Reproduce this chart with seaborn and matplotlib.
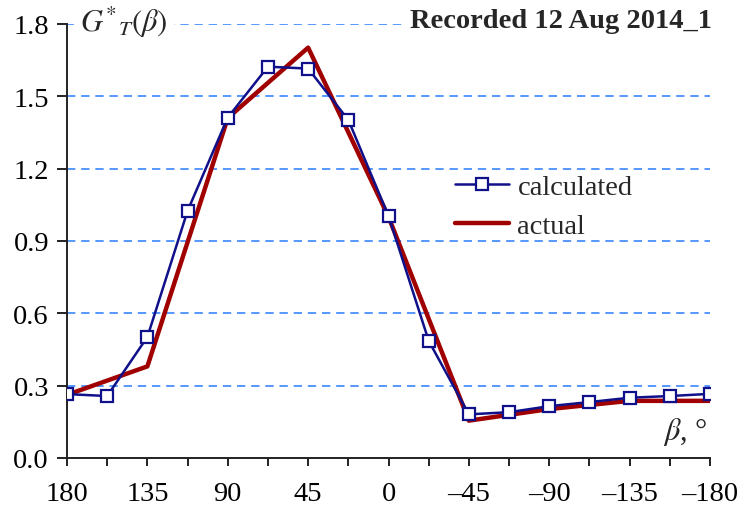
import seaborn as sns
import matplotlib.pyplot as plt
import pandas as pd

# data
beta_calc = [180, 157.5, 135, 112.5, 90, 67.5, 45, 22.5, 0, -22.5, -45, -67.5, -90, -112.5, -135, -157.5, -180]
g_calc = [0.265, 0.257, 0.502, 1.025, 1.412, 1.623, 1.615, 1.402, 1.004, 0.486, 0.181, 0.19, 0.215, 0.232, 0.25, 0.257, 0.266]
beta_act = [180, 135, 90, 45, 0, -45, -90, -135, -180]
g_act = [0.262, 0.38, 1.41, 1.702, 1.0, 0.155, 0.203, 0.237, 0.237]
xticks = [180, 135, 90, 45, 0, -45, -90, -135, -180]
xminor = [157.5, 112.5, 67.5, 22.5, -22.5, -67.5, -112.5, -157.5]
yticks = [0.0, 0.3, 0.6, 0.9, 1.2, 1.5, 1.8]

sns.set_style("ticks")
plt.rcParams['font.family'] = ['Liberation Serif', 'DejaVu Serif']
plt.rcParams['mathtext.fontset'] = 'stix'

df_calc = pd.DataFrame({"beta": beta_calc, "G": g_calc})
df_act = pd.DataFrame({"beta": beta_act, "G": g_act})

fig = plt.figure(figsize=(7.42, 5.10), dpi=100)
ax = fig.add_axes([0.0903, 0.1, 0.8666, 0.851])

for y in yticks[1:]:
    ax.axhline(y, color="#3a86ff", lw=1.2, ls=(0, (5, 3.5)), zorder=0)      # dashed blue grid

sns.lineplot(data=df_act, x="beta", y="G", ax=ax, color="#a00000", lw=3.2, label="actual", sort=False, zorder=2)
sns.lineplot(data=df_calc, x="beta", y="G", ax=ax, color="#10108a", lw=1.8, marker="s", markersize=9,
             markerfacecolor="white", markeredgecolor="#10108a", markeredgewidth=1.6,
             label="calculated", sort=False, zorder=3)

ax.set_xlim(180, -180)
ax.set_ylim(0, 1.8)
ax.set_xticks(xticks)
ax.set_xticks(xminor, minor=True)
ax.set_xticklabels([str(t).replace("-", "\u2013") for t in xticks])
ax.set_yticks(yticks)
ax.set_yticklabels([f"{t:.1f}" for t in yticks])
ax.tick_params(labelsize=20.5, direction="out", width=1.4, colors="#222222", labelcolor="black")
ax.tick_params(axis="x", which="both", length=5.5, width=1.4, color="#222222", pad=11)
ax.tick_params(axis="y", length=7, pad=6)
for s in ["top", "right"]:
    ax.spines[s].set_visible(False)
for s in ["left", "bottom"]:
    ax.spines[s].set_linewidth(1.4)
    ax.spines[s].set_color("#222222")
ax.set_xlabel("")
ax.set_ylabel("")

# legend: calculated first
h, l = ax.get_legend_handles_labels()
ax.legend([h[1], h[0]], [l[1], l[0]], loc="center left", bbox_to_anchor=(0.603, 0.58), frameon=False,
          fontsize=20.5, handlelength=1.9, handletextpad=0.3, labelspacing=0.45, borderpad=0, borderaxespad=0)

ax.text(0.02, 1.005, r"$G^{*}{}_{T}(\beta)$", transform=ax.transAxes, fontsize=22, va="center", ha="left",
        backgroundcolor="white")
ax.text(1.003, 1.008, "Recorded 12 Aug 2014_1", transform=ax.transAxes, fontsize=20.5, fontweight="bold",
        va="center", ha="right", backgroundcolor="white")
ax.text(0.997, 0.062, r"$\beta$, °", transform=ax.transAxes, fontsize=22, va="center", ha="right")

fig.savefig("out.png", dpi=100)
